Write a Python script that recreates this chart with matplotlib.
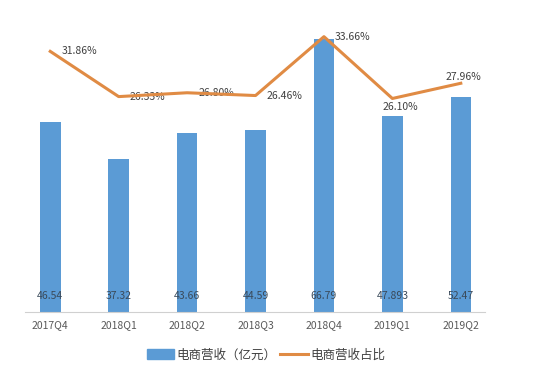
import matplotlib.pyplot as plt
from matplotlib.patches import Patch
from matplotlib.lines import Line2D

plt.rcParams['font.family'] = ['Noto Sans CJK SC', 'DejaVu Sans']

# 数据
quarters = ['2017Q4', '2018Q1', '2018Q2', '2018Q3', '2018Q4', '2019Q1', '2019Q2']
revenue = [46.54, 37.32, 43.66, 44.59, 66.79, 47.893, 52.47]
revenue_labels = ['46.54', '37.32', '43.66', '44.59', '66.79', '47.893', '52.47']
share = [31.86, 26.33, 26.80, 26.46, 33.66, 26.10, 27.96]

bar_color = '#5B9BD5'
line_color = '#E08B44'
text_color = '#404040'

fig = plt.figure(figsize=(5.54, 3.67), dpi=100)
ax = fig.add_axes([0.045, 0.15, 0.83, 0.78])
x = range(len(quarters))

ax.bar(x, revenue, width=0.3, color=bar_color, zorder=2)
ax.set_ylim(0, 70)
ax.set_xlim(-0.37, 6.35)
for i, lab in zip(x, revenue_labels):
    ax.text(i, 4, lab, ha='center', va='center', fontsize=7.5, color='#3a4a5a', zorder=3)

ax.set_xticks(list(x))
ax.set_xticklabels(quarters, fontsize=7.5, color='#595959')
ax.tick_params(axis='x', length=0, pad=6)
ax.set_yticks([])
for s in ['top', 'right', 'left']:
    ax.spines[s].set_visible(False)
ax.spines['bottom'].set_color('#d0d0d0')

ax2 = ax.twinx()
ax2.plot(x, share, color=line_color, linewidth=2.2, zorder=4)
ax2.set_ylim(0, 35)
ax2.set_yticks([])
for s in ['top', 'right', 'left', 'bottom']:
    ax2.spines[s].set_visible(False)

# 百分比标签
offsets = [(11, 0, 'left', 'center'), (11, 0, 'left', 'center'), (11, 0, 'left', 'center'),
           (11, 0, 'left', 'center'), (11, 0, 'left', 'center'), (8, -9, 'center', 'center'),
           (3, 6, 'center', 'center')]
for i, v in enumerate(share):
    dx, dy, ha, va = offsets[i]
    ax2.annotate(f'{v:.2f}%', (i, v), xytext=(dx, dy), textcoords='offset pixels',
                 ha=ha, va=va, fontsize=7.5, color=text_color)

handles = [Patch(color=bar_color), Line2D([], [], color=line_color, linewidth=2.2)]
fig.legend(handles, ['电商营收（亿元）', '电商营收占比'], loc='center',
           bbox_to_anchor=(0.48, 0.033), ncol=2, frameon=False, fontsize=9,
           handlelength=2.2, handleheight=0.9, columnspacing=0.3, handletextpad=0.2,
           labelcolor='#404040')

fig.savefig('out.png', dpi=100)
